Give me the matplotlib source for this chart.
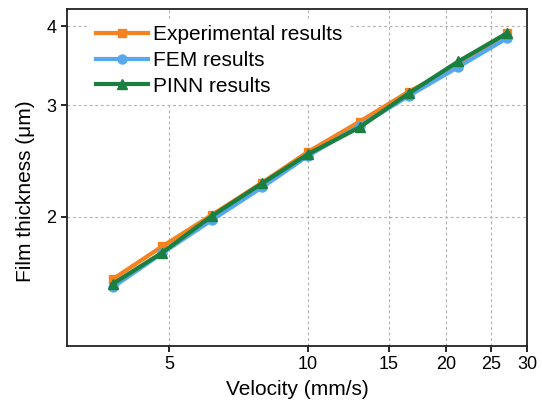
import numpy as np
import matplotlib.pyplot as plt
from matplotlib.ticker import FixedLocator, NullLocator, FixedFormatter

plt.rcParams['font.family'] = ['Liberation Sans', 'DejaVu Sans']

# velocity (mm/s)
velocity = [3.77, 4.83, 6.20, 7.97, 10.04, 12.97, 16.6, 21.25, 27.1]
# film thickness (um)
exp_thick = [1.594, 1.796, 2.015, 2.266, 2.536, 2.828, 3.155, 3.465, 3.90]
fem_thick = [1.548, 1.752, 1.978, 2.228, 2.500, 2.785, 3.107, 3.450, 3.83]
pinn_thick = [1.567, 1.756, 2.007, 2.260, 2.515, 2.770, 3.136, 3.520, 3.90]

xticks = [5, 10, 15, 20, 25, 30]
yticks = [2, 3, 4]

fig = plt.figure(figsize=(5.42, 4.07), dpi=100)
ax = fig.add_axes([0.1234, 0.1506, 0.8493, 0.8273])

ax.plot(velocity, exp_thick, '-s', color='#F5821F', lw=3, ms=6, label='Experimental results', zorder=3)
ax.plot(velocity, fem_thick, '-o', color='#56A8EE', lw=3, ms=6.5, label='FEM results', zorder=4)
ax.plot(velocity, pinn_thick, '-^', color='#1A7F3F', lw=3, ms=6.5, label='PINN results', zorder=5)

ax.set_xscale('log')
ax.set_yscale('log')
ax.set_xlim(3, 30)
ax.set_ylim(1.252, 4.26)

ax.xaxis.set_major_locator(FixedLocator(xticks))
ax.xaxis.set_major_formatter(FixedFormatter([str(t) for t in xticks]))
ax.xaxis.set_minor_locator(NullLocator())
ax.yaxis.set_major_locator(FixedLocator(yticks))
ax.yaxis.set_major_formatter(FixedFormatter([str(t) for t in yticks]))
ax.yaxis.set_minor_locator(NullLocator())

ax.grid(True, ls=(0, (2.5, 2.5)), color='#B0B0B0', lw=0.8)
ax.tick_params(direction='out', length=4, width=1.2, labelsize=13, colors='black')
for s in ax.spines.values():
    s.set_linewidth(1.3)
    s.set_color('#222222')

ax.set_xlabel('Velocity (mm/s)', fontsize=15, labelpad=5)
ax.set_ylabel('Film thickness (\u03bcm)', fontsize=15)
ax.yaxis.set_label_coords(-0.07, 0.459)

leg = ax.legend(loc='upper left', fontsize=15, frameon=True, framealpha=1,
                edgecolor='white', facecolor='white', fancybox=False,
                handlelength=2.5, handletextpad=0.25, labelspacing=0.32,
                borderpad=0.3, borderaxespad=0, bbox_to_anchor=(0.05, 0.97))
leg.set_zorder(2)

fig.savefig('out.png', dpi=100)
